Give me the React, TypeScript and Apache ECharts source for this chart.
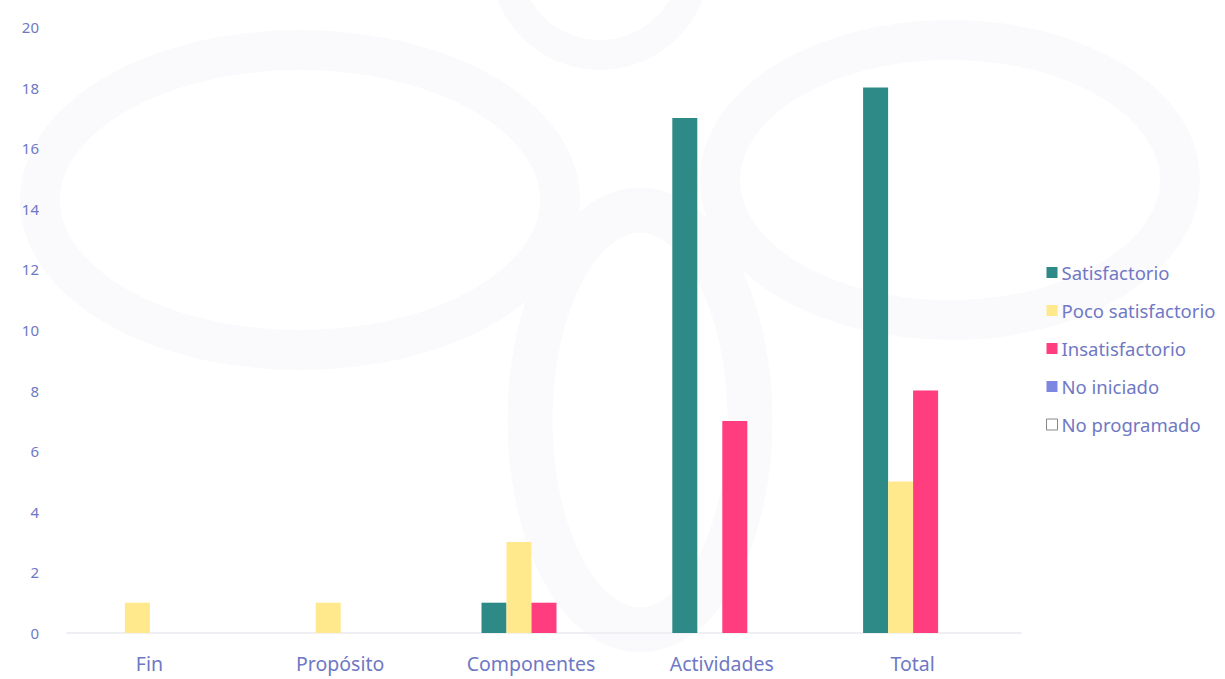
import React, { useEffect, useRef } from "react";
import * as echarts from "echarts";

const categories = ["Fin", "Propósito", "Componentes", "Actividades", "Total"];
const seriesNames = ["Satisfactorio", "Poco satisfactorio", "Insatisfactorio", "No iniciado", "No programado"];
const satisfactorio = [0, 0, 1, 17, 18];
const pocoSatisfactorio = [1, 1, 3, 0, 5];
const insatisfactorio = [0, 0, 1, 7, 8];
const noIniciado = [0, 0, 0, 0, 0];
const noProgramado = [0, 0, 0, 0, 0];
const colors = ["#2e8a86", "#ffe98c", "#ff3d7f", "#7d86e0", "#ffffff"];

const labelColor = "#6f78c4";
const font = "'Noto Sans', 'Open Sans', sans-serif";
const wm = "#fafafd";

export default function App() {
  const ref = useRef<HTMLDivElement>(null);
  useEffect(() => {
    if (!ref.current) return;
    const chart = echarts.init(ref.current, null, { renderer: "svg" });
    const values = [satisfactorio, pocoSatisfactorio, insatisfactorio, noIniciado, noProgramado];
    chart.setOption({
      animation: false,
      backgroundColor: "#ffffff",
      graphic: [
        { type: "ring", shape: { cx: 600, cy: -40, r: 110, r0: 80 }, style: { fill: wm }, z: -10 },
        { type: "ellipse", shape: { cx: 300, cy: 200, rx: 260, ry: 150 }, style: { fill: "none", stroke: wm, lineWidth: 40 }, z: -10 },
        { type: "ellipse", shape: { cx: 950, cy: 180, rx: 230, ry: 140 }, style: { fill: "none", stroke: wm, lineWidth: 40 }, z: -10 },
        { type: "ellipse", shape: { cx: 640, cy: 420, rx: 110, ry: 210 }, style: { fill: "none", stroke: wm, lineWidth: 45 }, z: -10 },
      ],
      grid: { left: 67, right: 204, top: 27, bottom: 46 },
      legend: {
        orient: "vertical",
        left: 1041,
        top: 258,
        itemWidth: 11,
        itemHeight: 11,
        itemGap: 19,
        icon: "rect",
        data: seriesNames.map((name, i) =>
          i === 4
            ? { name, itemStyle: { color: "#ffffff", borderColor: "#888888", borderWidth: 1 } }
            : { name }
        ),
        textStyle: { color: labelColor, fontSize: 18.5, fontFamily: font, padding: [0, 0, 0, -1] },
      },
      xAxis: {
        type: "category",
        data: categories,
        axisLine: { show: true, lineStyle: { color: "#f0f0f4", width: 2 } },
        axisTick: { show: false },
        axisLabel: { color: labelColor, fontSize: 19.5, fontFamily: font, margin: 20, padding: [0, 26, 0, 0] },
      },
      yAxis: {
        type: "value",
        min: 0,
        max: 20,
        interval: 2,
        splitLine: { show: false },
        axisLine: { show: false },
        axisTick: { show: false },
        axisLabel: { color: labelColor, fontSize: 15, fontFamily: font, margin: 28 },
      },
      series: seriesNames.map((name, i) => ({
        name,
        type: "bar",
        data: values[i],
        barWidth: 25,
        barGap: "0%",
        itemStyle: { color: colors[i], borderWidth: 0 },
      })),
    });
    return () => chart.dispose();
  }, []);
  return <div ref={ref} style={{ width: 1225, height: 679, position: "absolute", left: 0, top: 0 }} />;
}
